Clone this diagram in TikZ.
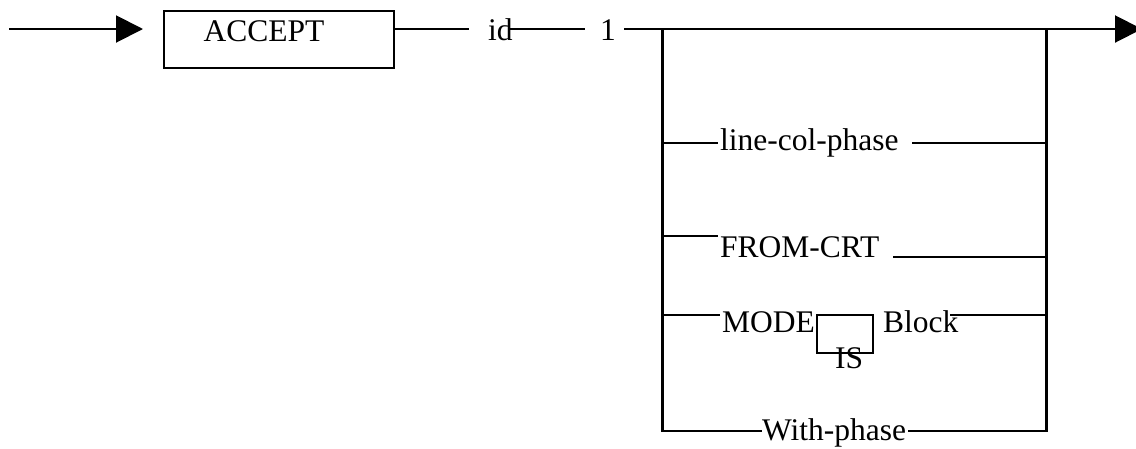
\documentclass[tikz,border=0pt]{standalone}
\usepackage{fontspec}
\setmainfont{Liberation Serif}
\usetikzlibrary{arrows.meta}
\begin{document}
\begin{tikzpicture}[x=1pt,y=-1pt,
  wire/.style={line width=2pt},
  bar/.style={line width=3pt},
  lbl/.style={inner sep=0pt, anchor=base west, font=\fontsize{31.5}{36}\selectfont},
  tipend/.style={-{Triangle[length=27pt,width=27pt]}}]
\useasboundingbox (0,0) rectangle (1136,448);
% entry
\coordinate (s) at (9,29);
\coordinate (tipL) at (143,29);
\draw[wire,tipend] (s) -- (tipL);
\node[draw, line width=1.5pt, minimum width=230pt, minimum height=57pt, inner sep=0pt, anchor=north west] (box) at (163,10) {};
\node[lbl, anchor=base] (acc) at (264,41) {ACCEPT};
\coordinate (a0) at (393,29);
\coordinate (a1) at (469,29);
\draw[wire] (a0) -- (a1);
\node[lbl] (id) at (488,40) {id};
\coordinate (a2) at (510,29);
\coordinate (a3) at (585,29);
\draw[wire] (a2) -- (a3);
\node[lbl] (one) at (600,40) {1};
\coordinate (a4) at (624,29);
\coordinate (LT) at (662,29);
\coordinate (RT) at (1046,29);
\coordinate (LB) at (662,432);
\coordinate (RB) at (1046,432);
\coordinate (tipR) at (1142,29);
\draw[wire] (a4) -- (RT);
\draw[wire,tipend] (RT) -- (tipR);
\draw[bar] (LT) -- (LB);
\draw[bar] (RT) -- (RB);
% branch 1
\coordinate (b1l) at (662,143);
\coordinate (b1a) at (718,143);
\node[lbl] (lcp) at (720,150) {line-col-phase};
\coordinate (b1b) at (912,143);
\coordinate (b1r) at (1046,143);
\draw[wire] (b1l) -- (b1a);
\draw[wire] (b1b) -- (b1r);
% branch 2
\coordinate (b2l) at (662,236);
\coordinate (b2a) at (718,236);
\node[lbl] (fcrt) at (720,257) {FROM-CRT};
\coordinate (b2b) at (893,257);
\coordinate (b2r) at (1046,257);
\draw[wire] (b2l) -- (b2a);
\draw[wire] (b2b) -- (b2r);
% branch 3
\coordinate (b3l) at (662,315);
\coordinate (b3a) at (720,315);
\node[lbl] (mode) at (722,332) {MODE};
\coordinate (m1) at (817,315);
\coordinate (m2) at (817,353);
\coordinate (m3) at (873,353);
\coordinate (m4) at (873,315);
\node[lbl] (is) at (835,368) {IS};
\node[lbl] (blk) at (883,332) {Block};
\coordinate (b3b) at (950,315);
\coordinate (b3r) at (1046,315);
\draw[wire] (b3l) -- (b3a);
\draw[wire] (m1) -- (m2) -- (m3) -- (m4) -- cycle;
\draw[wire] (b3b) -- (b3r);
% branch 4
\coordinate (b4l) at (662,431);
\coordinate (b4a) at (762,431);
\node[lbl] (wph) at (762,440) {With-phase};
\coordinate (b4b) at (908,431);
\coordinate (b4r) at (1046,431);
\draw[wire] (b4l) -- (b4a);
\draw[wire] (b4b) -- (b4r);
\end{tikzpicture}
\end{document}
